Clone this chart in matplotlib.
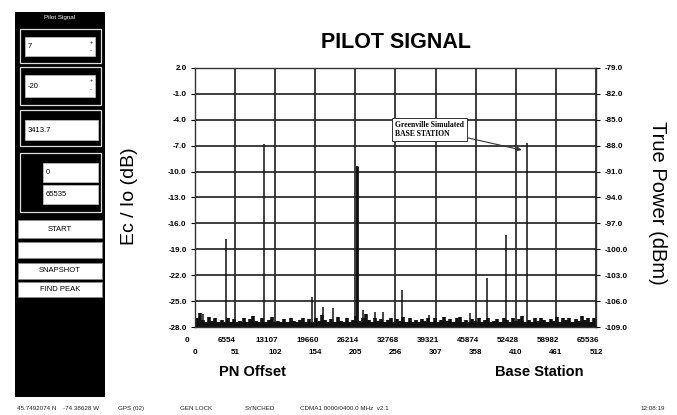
import matplotlib
matplotlib.use("Agg")
import matplotlib.pyplot as plt
from matplotlib.patches import Rectangle
from matplotlib.transforms import ScaledTranslation, blended_transform_factory
import numpy as np

W, H = 677, 415

# ---------------- data ----------------
x_ticks = [0, 6554, 13107, 19660, 26214, 32768, 39321, 45874, 52428, 58982, 65536]
pn_labels = ["0", "51", "102", "154", "205", "256", "307", "358", "410", "461", "512"]
ecio_ticks = [2.0, -1.0, -4.0, -7.0, -10.0, -13.0, -16.0, -19.0, -22.0, -25.0, -28.0]
power_ticks = [-79.0, -82.0, -85.0, -88.0, -91.0, -94.0, -97.0, -100.0, -103.0, -106.0, -109.0]

# pilot peaks (chip offset, Ec/Io dB)
peak_chips = [5120, 11300, 19120, 26480, 33830, 47720, 50830, 54260,
              20920, 22550, 27460, 29420, 30730, 38240, 1300, 44900]
peak_vals = [-17.8, -6.8, -24.5, -9.3, -23.7, -22.3, -17.4, -6.7,
             -25.7, -25.8, -26.0, -26.3, -26.3, -26.6, -26.5, -26.4]

# noise floor, one value every 512 chips
noise_vals = [
    -26.9, -26.4, -27.2, -27.5, -26.8, -27.3, -27.0, -27.6, -27.2, -27.4, -26.9, -27.5, -27.1, -27.6, -27.3, -27.0,
    -27.4, -27.1, -26.7, -27.3, -27.5, -27.0, -27.4, -27.2, -26.8, -27.5, -27.3, -27.6, -27.1, -27.4, -27.0, -27.3,
    -27.5, -27.2, -26.9, -27.4, -27.1, -27.6, -27.0, -27.3, -26.6, -27.2, -27.5, -27.1, -27.4, -26.8, -27.3, -27.5,
    -27.0, -27.4, -27.2, -26.7, -27.3, -27.0, -26.5, -27.2, -27.4, -26.9, -27.3, -27.1, -27.5, -27.2, -26.9, -27.4,
    -27.1, -27.3, -26.8, -27.5, -27.0, -27.4, -27.2, -27.6, -27.1, -27.3, -26.9, -27.4, -27.0, -27.5, -27.2, -26.8,
    -27.3, -27.1, -27.5, -27.0, -26.8, -27.4, -27.2, -27.5, -27.1, -27.3, -26.9, -27.4, -27.2, -27.0, -27.5, -27.3,
    -27.1, -27.4, -26.9, -27.2, -27.5, -27.0, -27.3, -27.1, -26.7, -27.4, -27.2, -27.5, -27.0, -27.3, -26.9, -27.2,
    -27.4, -27.1, -27.3, -26.8, -27.5, -27.0, -27.2, -26.9, -27.4, -27.1, -27.3, -26.7, -27.2, -27.0, -27.4, -26.9,
]
noise_step = 512
noise_chips = [i * noise_step + noise_step // 2 for i in range(len(noise_vals))]

# ---------------- figure ----------------
fig = plt.figure(figsize=(W / 100, H / 100), dpi=100)
fig.patch.set_facecolor("white")

def fx(px):
    return px / W

def fy(py):
    return 1 - py / H

ax = fig.add_axes([fx(195), fy(327), fx(596) - fx(195), fy(68) - fy(327)])
ax.set_xlim(0, 65536)
ax.set_ylim(-28, 2)

# grid
for xt in x_ticks:
    ax.axvline(xt, color="#2e2e2e", lw=1.3, zorder=1)
for yt in ecio_ticks:
    ax.axhline(yt, color="#2e2e2e", lw=1.3, zorder=1)

# noise floor
ax.vlines(noise_chips, -28, noise_vals, color="#111111", lw=2.6, zorder=2)
ax.fill_between([0, 65536], -28, -27.4, color="#111111", lw=0, zorder=2)
# peaks
ax.vlines(peak_chips, -28, peak_vals, color="#111111", lw=1.1, zorder=3)
ax.vlines([peak_chips[3]], -28, [peak_vals[3]], color="#111111", lw=2.0, zorder=3)

for sp in ax.spines.values():
    sp.set_linewidth(1.0)
    sp.set_color("#333333")

tick_font = dict(family="Liberation Sans", weight="bold", size=5.8)
ax.set_yticks(ecio_ticks)
ax.set_yticklabels([f"{v:.1f}" for v in ecio_ticks], **tick_font)
ax.tick_params(axis="y", length=3, width=0.8, pad=3)
ax.set_xticks(x_ticks)
ax.set_xticklabels([str(v) for v in x_ticks], **tick_font)
ax.tick_params(axis="x", length=0, pad=7)
off = ScaledTranslation(-8 / 100, 0, fig.dpi_scale_trans)
for lab in ax.get_xticklabels():
    lab.set_transform(lab.get_transform() + off)

btr = blended_transform_factory(ax.transData, ax.transAxes)
for xt, lab in zip(x_ticks, pn_labels):
    ax.text(xt, -0.085, lab, transform=btr, ha="center", va="top", **tick_font)

ax2 = ax.twinx()
ax2.set_ylim(-109, -79)
ax2.set_yticks(power_ticks)
ax2.set_yticklabels([f"{v:.1f}" for v in power_ticks], **tick_font)
ax2.tick_params(axis="y", length=3, width=0.8, pad=3)
for sp in ax2.spines.values():
    sp.set_visible(False)

# annotation
ax.annotate("Greenville Simulated\nBASE STATION", xy=(53400, -7.5), xytext=(32700, -5.1),
            fontsize=5.5, family="Liberation Serif", weight="bold", va="center", ha="left",
            bbox=dict(boxstyle="square,pad=0.4", fc="white", ec="#333333", lw=0.7),
            arrowprops=dict(arrowstyle="-|>", color="#333333", lw=0.8, mutation_scale=6,
                            shrinkA=0, shrinkB=0), zorder=5)

# titles / labels
fig.text(fx(396), fy(42), "PILOT SIGNAL", ha="center", va="center",
         family="Liberation Sans", weight="bold", fontsize=15.5)
fig.text(fx(130), fy(196), "Ec / Io (dB)", ha="center", va="center", rotation=90,
         family="Liberation Sans", fontsize=14)
fig.text(fx(657), fy(203), "True Power (dBm)", ha="center", va="center", rotation=-90,
         family="Liberation Sans", fontsize=14.5)
fig.text(fx(252), fy(372), "PN Offset", ha="center", va="center",
         family="Liberation Sans", weight="bold", fontsize=10.5)
fig.text(fx(539), fy(372), "Base Station", ha="center", va="center",
         family="Liberation Sans", weight="bold", fontsize=10.5)

# ---------------- left control panel ----------------
def rect(x0, y0, x1, y1, **kw):
    fig.patches.append(Rectangle((fx(x0), fy(y1)), fx(x1) - fx(x0), fy(y0) - fy(y1),
                                 transform=fig.transFigure, **kw))

rect(15, 12, 105, 397, fc="black", ec="black", lw=0)
fig.text(fx(60), fy(17), "Pilot Signal", color="white", ha="center", va="center",
         fontsize=4.5, family="Liberation Sans")

panel_font = dict(family="Liberation Sans", fontsize=5.5, color="black", va="center")
# group 1
rect(20, 29, 101, 63, fc="none", ec="#dddddd", lw=0.9)
rect(25, 37, 95, 56, fc="white", ec="#bbbbbb", lw=0.6)
fig.text(fx(28), fy(46.5), "7", **panel_font)
fig.text(fx(91), fy(43), "+", ha="center", fontsize=4, family="Liberation Sans", va="center")
fig.text(fx(91), fy(51), "-", ha="center", fontsize=4, family="Liberation Sans", va="center")
# group 2
rect(20, 67, 101, 105, fc="none", ec="#dddddd", lw=0.9)
rect(25, 75, 95, 97, fc="white", ec="#bbbbbb", lw=0.6)
fig.text(fx(28), fy(86), "-20", **panel_font)
fig.text(fx(91), fy(81), "+", ha="center", fontsize=4, family="Liberation Sans", va="center")
fig.text(fx(91), fy(90), "-", ha="center", fontsize=4, family="Liberation Sans", va="center")
# group 3
rect(20, 110, 101, 146, fc="none", ec="#dddddd", lw=0.9)
rect(25, 120, 98, 140, fc="white", ec="#bbbbbb", lw=0.6)
fig.text(fx(28), fy(130), "3413.7", **panel_font)
# group 4
rect(20, 153, 101, 212, fc="none", ec="#dddddd", lw=0.9)
rect(43, 163, 98, 182, fc="white", ec="#bbbbbb", lw=0.6)
rect(43, 185, 98, 204, fc="white", ec="#bbbbbb", lw=0.6)
fig.text(fx(46), fy(172.5), "0", **panel_font)
fig.text(fx(46), fy(194.5), "65535", **panel_font)
# buttons
for (y0, y1, lab) in [(220, 238, "START"), (242, 258, ""), (263, 279, "SNAPSHOT"), (282, 297, "FIND PEAK")]:
    rect(18, y0, 102, y1, fc="white", ec="#888888", lw=0.6)
    if lab:
        fig.text(fx(60), fy((y0 + y1) / 2), lab, ha="center", va="center",
                 family="Liberation Sans", fontsize=5.5, color="black")

# ---------------- status bar ----------------
status_items = [(17, "45.7492074 N"), (63, "-74.38628 W"), (118, "GPS (02)"), (180, "GEN LOCK"),
                (245, "SYNCHED"), (300, "CDMA1 0000/0400.0 MHz  v2.1"), (640, "12:08:19")]
for px, s in status_items:
    fig.text(fx(px), fy(408), s, ha="left", va="center", family="Liberation Sans",
             fontsize=4.5, color="#222222")

fig.savefig("out.png", dpi=100)
